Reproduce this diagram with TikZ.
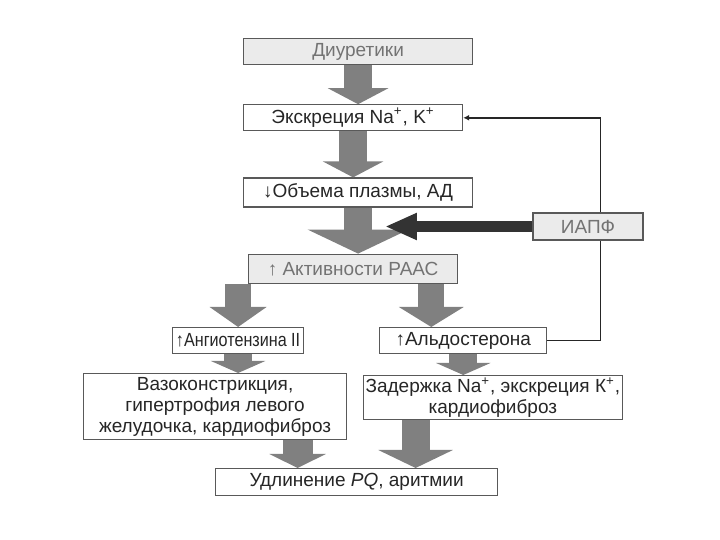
\documentclass[tikz,border=0pt]{standalone}
\usepackage{fontspec}
\setmainfont{Liberation Sans}
\usepackage{tikz}
\usetikzlibrary{positioning,arrows.meta,backgrounds}

\begin{document}
\begin{tikzpicture}[
  x=0.5pt, y=-0.5pt,
  box/.style = {draw=black!65, fill=white, line width=0.6pt, align=center, inner sep=1pt,
                minimum height=13pt, font=\fontsize{9.5}{10.5}\selectfont, text=black!85},
  pale/.style = {box, fill=black!8, text=black!55},
  fat/.style = {black!50, line width=14pt},
  back/.style = {-{Latex[length=3pt,width=3pt]}, line width=0.8pt, black!85}
]
  \useasboundingbox (0,0) rectangle (720,540);

  \node[pale, minimum width=114.5pt, anchor=north west] (diur) at (243,38) {Диуретики};
  \node[box, minimum width=109.5pt, below=19.5pt of diur.south west, anchor=north west] (exc)
       {Экскреция Na\textsuperscript{+}, K\textsuperscript{+}};
  \node[box, minimum width=114.5pt, minimum height=14.5pt, below=23pt of exc.south west,
        anchor=north west] (vol) {↓Объема плазмы, АД};
  \node[pale, minimum width=104.5pt, minimum height=14.5pt, below=23pt of vol.south,
        xshift=-2.5pt] (raas) {↑ Активности РААС};
  \node[pale, minimum width=55pt, minimum height=13.5pt] (iapf) at (588,226.5) {ИАПФ};
  \node[box, minimum width=65.5pt, anchor=north west] (ang) at (172,327)
       {\scalebox{0.85}[1]{↑Ангиотензина II}};
  \node[box, minimum width=83.5pt, right=37.5pt of ang] (ald) {↑Альдостерона};
  \node[box, minimum width=131.5pt, minimum height=33pt, anchor=north west] (vaso) at (83,373)
       {Вазоконстрикция,\\гипертрофия левого\\желудочка, кардиофиброз};
  \node[box, minimum width=124.5pt, minimum height=21pt, anchor=north west] (zad) at (363,375)
       {Задержка Na\textsuperscript{+}, экскреция К\textsuperscript{+},\\кардиофиброз};
  \node[box, minimum width=141pt, minimum height=13.5pt, anchor=north west] (udl) at (215,468)
       {Удлинение \textit{PQ}, аритмии};
  \coordinate (hit) at (385,226.5);

  % block arrows
  \draw[fat, -{Triangle[length=8pt,width=30pt]}] (diur.south) -- (diur.south |- exc.north);
  \draw[fat, -{Triangle[length=8pt,width=30pt]}] (exc.south) -- (exc.south |- vol.north);
  \draw[fat, -{Triangle[length=12pt,width=50pt]}] (vol.south) -- (vol.south |- raas.north);
  \draw[black!80, line width=5.5pt, -{Triangle[length=16pt,width=12.5pt]}] (iapf.west) -- (hit);
  \draw[fat, line width=13pt, -{Triangle[length=10pt,width=28pt]}] (ang.north |- raas.south) -- (ang.north);
  \draw[fat, line width=13pt, -{Triangle[length=10pt,width=32pt]}]
       ([xshift=-16pt]ald.north |- raas.south) -- ([xshift=-16pt]ald.north);
  \draw[fat, -{Triangle[length=6pt,width=27pt]}] (ang.south) -- (ang.south |- vaso.north);
  \draw[fat, -{Triangle[length=6pt,width=27pt]}] (ald.south) -- (ald.south |- zad.north);
  \draw[fat, line width=15pt, -{Triangle[length=7pt,width=28pt]}]
       ([xshift=-29.5pt]udl.north |- vaso.south) -- ([xshift=-29.5pt]udl.north);
  \draw[fat, -{Triangle[length=9pt,width=37pt]}]
       ([xshift=29.5pt]udl.north |- zad.south) -- ([xshift=29.5pt]udl.north);

  % feedback line
  \begin{scope}[on background layer]
    \draw[back] (ald.east) -- ++(53,0) |- (exc.east);
  \end{scope}
\end{tikzpicture}
\end{document}
